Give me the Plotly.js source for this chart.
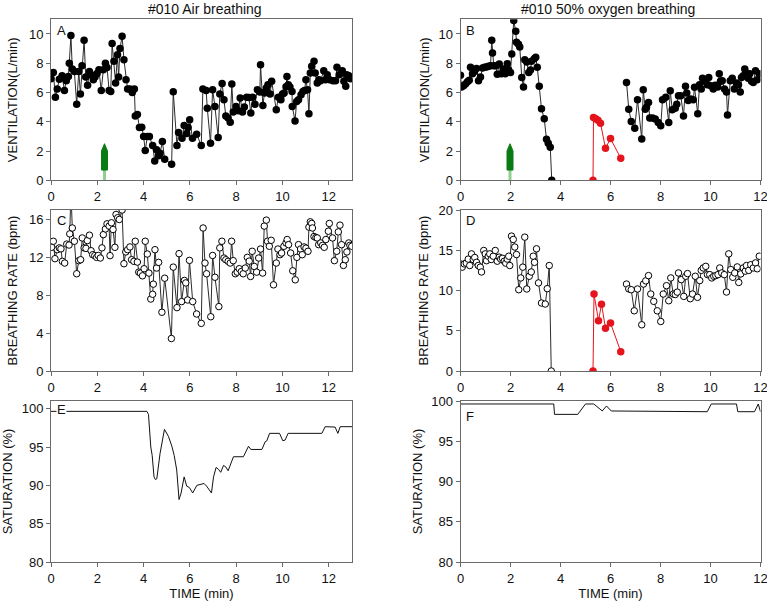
<!DOCTYPE html>
<html>
<head>
<meta charset="utf-8">
<script src="https://cdn.plot.ly/plotly-3.0.1.min.js"></script>
<style>html,body{margin:0;padding:0;background:#fff;}#chart{width:767px;height:604px;}</style>
</head>
<body>
<div id="chart"></div>
<script>
// ---------- DATA ----------
// Panel A: ventilation, air breathing
const timeA = [0,0.10,0.19,0.27,0.36,0.48,0.58,0.66,0.75,0.79,0.86,0.92,1.01,1.11,1.20,1.27,1.34,1.43,1.50,1.58,1.66,1.74,1.83,1.90,1.99,2.07,2.17,2.26,2.35,2.42,2.51,2.58,2.64,2.72,2.79,2.87,2.92,2.98,3.07,3.15,3.24,3.31,3.41,3.51,3.60,3.64,3.73,3.82,3.92,4.00,4.07,4.16,4.25,4.39,4.48,4.56,4.64,4.71,4.81,4.91,5.21,5.28,5.44,5.51,5.66,5.75,5.86,5.92,5.99,6.11,6.29,6.49,6.56,6.70,6.75,6.89,6.98,7.08,7.22,7.29,7.39,7.47,7.55,7.65,7.74,7.81,7.87,7.99,8.09,8.17,8.27,8.35,8.45,8.55,8.63,8.71,8.81,8.91,9.02,9.05,9.15,9.22,9.30,9.37,9.46,9.53,9.73,9.82,9.93,10.00,10.07,10.15,10.19,10.25,10.32,10.41,10.42,10.54,10.61,10.69,10.80,10.88,10.95,11.01,11.08,11.14,11.20,11.26,11.36,11.41,11.50,11.57,11.64,11.78,11.85,11.93,12.03,12.18,12.29,12.35,12.45,12.58,12.65,12.73,12.77,12.86,12.94];
const ventA = [6.94,7.37,5.68,6.23,6.9,7.15,6.14,6.8,7.1,8.0,9.9,7.6,7.44,5.2,7.44,5.9,7.83,9.57,7.05,6.5,7.44,7.2,6.87,7.05,7.3,7.55,6.14,7.55,8.0,7.7,6.14,6.07,9.34,8.13,6.64,8.58,7.05,9.0,9.84,8.24,6.87,6.23,6.23,6.0,6.23,4.4,4.5,3.6,3.62,3.0,2.03,3.0,3.0,2.37,1.32,2.08,1.67,1.85,2.65,1.44,1.1,6.05,2.37,3.26,2.88,3.74,3.2,3.6,4.13,2.88,3.15,2.37,6.23,6.14,4.93,2.53,6.19,5.05,2.92,5.9,6.62,5.5,4.4,4.25,3.97,6.58,4.66,5.05,4.75,5.62,4.66,5.0,5.68,5.66,4.59,5.68,5.2,6.19,6.03,7.9,5.11,5.96,6.3,6.53,5.9,6.76,4.82,5.68,5.5,5.9,5.96,6.4,7.1,6.53,6.37,6.07,5.05,4.06,5.39,5.5,5.84,6.07,6.14,6.87,6.19,4.54,7.33,7.79,8.13,7.33,6.64,6.87,6.8,7.49,6.87,7.21,6.87,6.8,6.8,7.72,7.21,7.49,6.76,6.42,7.21,7.14,6.94];

// Panel B: ventilation, 50% oxygen breathing
const timeBpre = [0,0.04,0.12,0.20,0.28,0.35,0.40,0.48,0.56,0.64,0.72,0.80,0.88,0.96,1.04,1.12,1.20,1.25,1.28,1.33,1.41,1.47,1.55,1.63,1.71,1.79,1.87,1.92,2.00,2.05,2.13,2.21,2.24,2.32,2.37,2.45,2.52,2.57,2.65,2.73,2.80,2.84,2.95,3.01,3.07,3.15,3.24,3.35,3.44,3.51,3.59,3.65];
const ventBpre = [7.17,6.37,6.46,6.58,6.73,6.83,7.72,7.28,7.44,7.63,6.8,7.05,7.67,7.72,7.74,7.79,7.83,9.57,8.7,7.83,7.83,7.24,7.95,7.28,7.6,7.28,7.97,7.56,7.37,8.63,10.91,10.18,9.43,9.3,9.1,7.03,6.37,8.24,8.08,7.37,7.53,8.13,8.3,8.4,7.72,6.42,4.89,4.2,2.8,2.53,2.26,0];
const timeBred = [5.30,5.32,5.41,5.50,5.60,5.80,6.00,6.41];
const ventBred = [0,4.29,4.2,4.1,3.9,2.19,2.85,1.51];
const timeBpost = [6.64,6.73,6.83,6.97,7.08,7.25,7.31,7.39,7.44,7.52,7.57,7.68,7.79,7.91,8.01,8.08,8.21,8.33,8.39,8.47,8.59,8.65,8.72,8.81,8.92,9.00,9.05,9.11,9.21,9.31,9.36,9.49,9.56,9.63,9.68,9.77,9.87,9.93,10.01,10.11,10.19,10.29,10.35,10.40,10.47,10.56,10.64,10.68,10.79,10.87,10.95,11.04,11.12,11.19,11.24,11.31,11.37,11.41,11.51,11.57,11.64,11.71,11.80,11.87,11.95];
const ventBpost = [6.69,4.86,4.02,3.56,5.5,2.83,6.19,4.86,4.99,5.32,4.25,4.25,4.18,3.95,3.72,5.5,5.68,3.95,6.12,4.82,4.93,5.2,5.78,5.78,4.4,6.42,5.96,5.46,5.55,5.5,6.35,4.54,6.53,6.23,6.98,6.76,6.53,7.03,6.46,6.23,6.49,6.37,7.28,6.76,6.8,6.23,6.03,4.47,6.8,6.98,6.23,6.64,6.53,6.03,7.03,7.15,7.6,7.37,6.98,7.28,6.76,6.69,7.49,6.87,7.28];

// Panel C: breathing rate, air breathing
const timeC = [0.03,0.10,0.17,0.27,0.36,0.43,0.49,0.59,0.68,0.78,0.81,0.86,0.92,1.01,1.11,1.20,1.28,1.35,1.43,1.51,1.57,1.66,1.73,1.80,1.89,1.97,2.04,2.13,2.20,2.26,2.35,2.42,2.51,2.55,2.61,2.68,2.76,2.81,2.88,2.95,3.07,3.15,3.23,3.31,3.41,3.48,3.58,3.64,3.73,3.79,3.86,3.95,4.02,4.07,4.16,4.23,4.31,4.39,4.42,4.49,4.56,4.65,4.79,4.91,5.20,5.28,5.44,5.53,5.64,5.76,5.82,5.90,5.98,6.12,6.29,6.49,6.57,6.65,6.72,6.90,6.98,7.08,7.25,7.29,7.38,7.47,7.55,7.65,7.74,7.80,7.87,7.96,8.04,8.13,8.22,8.30,8.39,8.48,8.56,8.62,8.69,8.78,8.88,8.97,9.05,9.14,9.21,9.30,9.35,9.43,9.51,9.61,9.73,9.80,9.89,9.96,10.06,10.15,10.20,10.26,10.35,10.44,10.55,10.62,10.69,10.78,10.85,10.93,11.01,11.10,11.14,11.20,11.26,11.29,11.36,11.44,11.50,11.56,11.65,11.73,11.80,11.87,11.98,12.02,12.16,12.24,12.34,12.41,12.48,12.55,12.63,12.71,12.78,12.86,12.91,12.99];
const rateC = [13.06,13.7,11.86,12.81,13.0,12.9,11.58,11.4,13.4,13.3,14.48,19,15.1,13.7,10.27,11.65,11.75,14.05,13.0,12.95,13.77,14.34,12.7,12.28,12.18,12.0,12.2,11.93,13.0,14.4,15.0,15.54,15.3,12.18,15.65,14.94,13.06,16.53,16.18,16.0,17.0,11.33,12.57,12.81,13.1,11.75,11.58,13.7,11.5,10.44,10.34,10.05,10.8,13.7,12.35,10.34,7.6,8.1,9.17,12.81,10.87,11.47,6.2,9.8,3.43,10.97,6.69,12.39,7.33,9.56,9.3,7.5,11.68,7.33,6.02,5.03,15.1,11.4,10.27,5.73,12.2,9.9,6.8,13.0,13.7,11.93,11.75,11.58,11.4,13.7,11.65,10.27,10.44,10.8,10.5,10.27,10.87,12.0,11.6,9.98,12.64,11.04,10.44,11.93,12.88,10.34,15.3,15.93,13.7,13.17,13.8,9.1,11.4,12.88,12.28,12.46,13.17,13.52,13.88,13.34,12.46,10.58,9.63,12.0,13.34,12.88,12.28,13.1,12.97,12.64,15.19,15.75,15.58,15.1,14.2,14.1,14.05,13.34,13.52,13.27,13.06,13.88,14.76,15.58,14.05,11.65,12.64,14.69,15.4,13.34,11.15,11.75,12.57,13.52,13.27,13.17];

// Panel D: breathing rate, 50% oxygen breathing
const timeDpre = [0,0.07,0.15,0.23,0.31,0.37,0.44,0.51,0.57,0.64,0.71,0.79,0.84,0.93,0.99,1.04,1.11,1.17,1.23,1.31,1.39,1.47,1.55,1.61,1.68,1.75,1.81,1.87,1.93,1.97,2.04,2.11,2.17,2.24,2.33,2.41,2.49,2.57,2.65,2.75,2.83,2.91,2.96,3.04,3.12,3.24,3.39,3.47,3.55,3.63];
const rateDpre = [13.3,12.9,13.3,13.4,13.9,13.1,14.55,13.85,14.1,13.5,13.1,12.9,12.3,14.97,14.55,13.7,14.26,14.55,13.85,14.26,14.97,13.64,14.14,13.9,14.0,13.64,13.4,13.9,14.26,13.1,16.76,16.34,15.4,14.47,10.1,11.56,12.9,16.63,10.19,11.77,12.3,14.26,13.5,15.18,10.94,8.44,8.32,10.23,13.1,0];
const timeDred = [5.30,5.34,5.52,5.64,5.80,6.00,6.41];
const rateDred = [0,9.56,6.24,8.3,5.3,5.95,2.4];
const timeDpost = [6.64,6.73,6.83,6.95,7.08,7.25,7.32,7.41,7.52,7.61,7.73,7.87,8.01,8.11,8.24,8.33,8.41,8.51,8.59,8.67,8.72,8.83,8.93,9.01,9.08,9.19,9.28,9.39,9.48,9.57,9.63,9.71,9.81,9.88,9.97,10.05,10.13,10.21,10.30,10.37,10.45,10.55,10.64,10.73,10.81,10.89,10.97,11.07,11.13,11.21,11.31,11.39,11.44,11.53,11.61,11.71,11.80,11.87,11.95];
const rateDpost = [10.8,10.2,10.1,7.48,10.19,5.74,10.8,11.2,11.85,9.56,8.65,7.48,6.15,9.56,10.6,8.73,11.56,9.56,9.5,9.8,12.18,11.35,9.27,11.77,12.1,8.98,9.56,11.77,9.15,11.23,12.5,12.8,13.0,11.97,11.97,11.56,11.77,11.85,11.97,12.8,12.18,11.97,9.81,14.55,12.6,11.64,12.18,12.93,11.0,12.06,12.8,12.4,13.1,12.5,13.2,12.8,13.43,12.7,14.26];

// Panel E: saturation, air breathing
const timeE = [0,4.14,4.21,4.31,4.37,4.45,4.51,4.57,4.71,4.90,5.07,5.22,5.32,5.43,5.53,5.62,5.75,5.86,5.98,6.12,6.30,6.41,6.61,6.72,6.93,7.02,7.13,7.23,7.33,7.45,7.55,7.65,7.77,7.88,8.31,8.53,8.63,9.11,9.25,9.32,9.44,9.87,10.01,10.11,10.24,11.70,11.84,12.20,12.27,12.39,12.49,13.0];
const satE = [99.65,99.65,99.26,95.0,93.9,91.1,90.76,90.85,94.16,97.3,96.4,95.1,93.9,92.0,88.15,89.0,91.1,89.9,89.7,89.0,90.0,90.1,90.24,89.9,89.0,91.1,92.33,92.1,91.7,92.6,92.4,91.9,92.94,93.73,93.73,95.1,94.68,94.68,95.69,95.8,96.78,96.78,95.82,95.9,96.78,96.78,97.65,97.65,97.6,96.78,97.65,97.65];

// Panel F: saturation, 50% oxygen breathing
const timeF = [0,2.40,2.53,2.66,3.73,3.76,4.69,5.00,5.33,5.67,5.84,6.03,9.87,10.03,11.04,11.09,11.76,11.91,12.0];
const satF = [99.63,99.63,99.7,99.63,99.63,98.34,98.34,99.63,99.63,98.76,99.38,98.76,98.67,99.63,99.63,98.67,98.67,99.63,98.67];

// Tick labels / annotations
const timeTicks = [0,2,4,6,8,10,12];
const titleLeft = '#010 Air breathing';
const titleRight = '#010 50% oxygen breathing';
const panelLetters = ['A','B','C','D','E','F'];
const arrowTimeA = 2.31;
const arrowTimeB = 1.98;

// ---------- STYLE ----------
const FONT = 'Liberation Sans, Arial, sans-serif';
const LINE = '#2b2b2b';
const RED = '#e5141c';
const AXC = '#6a6a6a';

function dots(x, y, xa, ya, filled, color) {
  color = color || 'black';
  return {
    x: x, y: y, xaxis: xa, yaxis: ya, type: 'scatter', mode: 'lines+markers',
    line: {color: color === 'black' ? LINE : color, width: 1},
    marker: filled
      ? {symbol: 'circle', size: 7.5, color: color, line: {width: 0}}
      : {symbol: 'circle', size: 6.5, color: 'white', line: {color: 'black', width: 1}},
    hoverinfo: 'skip', showlegend: false
  };
}
function plain(x, y, xa, ya) {
  return {x: x, y: y, xaxis: xa, yaxis: ya, type: 'scatter', mode: 'lines',
    line: {color: '#111', width: 1}, hoverinfo: 'skip', showlegend: false};
}

const data = [
  dots(timeA, ventA, 'x', 'y', true),
  dots(timeBpre, ventBpre, 'x2', 'y2', true),
  dots(timeBpost, ventBpost, 'x2', 'y2', true),
  dots(timeBred, ventBred, 'x2', 'y2', true, RED),
  dots(timeC, rateC, 'x3', 'y3', false),
  dots(timeDpre, rateDpre, 'x4', 'y4', false),
  dots(timeDpost, rateDpost, 'x4', 'y4', false),
  dots(timeDred, rateDred, 'x4', 'y4', true, RED),
  plain(timeE, satE, 'x5', 'y5'),
  plain(timeF, satF, 'x6', 'y6')
];

const W = 767, H = 604;
const colL = [51/W, 352/W], colR = [460.5/W, 760.5/W];
const row1 = [1-180.3/H, 1-19.3/H], row2 = [1-371/H, 1-210/H], row3 = [1-562/H, 1-401/H];

function xax(dom, range, anchor, title, standoff) {
  const a = {domain: dom, range: range, anchor: anchor, tickmode: 'array', tickvals: timeTicks,
    ticktext: timeTicks.map(String), ticklabeloverflow: 'allow',
    showline: true, mirror: true, linecolor: AXC, linewidth: 1,
    ticks: 'outside', ticklen: 4, tickcolor: AXC, showgrid: false, zeroline: false,
    tickfont: {family: FONT, size: 13, color: '#111'}, automargin: false, fixedrange: true};
  if (title) a.title = {text: title, font: {family: FONT, size: 13, color: '#111'}, standoff: standoff};
  return a;
}
function yax(dom, range, anchor, dtick, title, standoff) {
  return {domain: dom, range: range, anchor: anchor, dtick: dtick, tick0: 0,
    showline: true, mirror: true, linecolor: AXC, linewidth: 1, ticklabeloverflow: 'allow',
    ticks: 'outside', ticklen: 4, tickcolor: AXC, showgrid: false, zeroline: false,
    tickfont: {family: FONT, size: 13, color: '#111'}, automargin: false, fixedrange: true,
    title: {text: title, font: {family: FONT, size: 13, color: '#111'}, standoff: standoff}};
}

const annLetter = (t, xr, yr, bg) => ({text: t, xref: xr + ' domain', yref: yr + ' domain',
  x: 0.015, y: 0.985, xanchor: 'left', yanchor: 'top', showarrow: false,
  font: {family: FONT, size: 13, color: '#111'}, bgcolor: bg || 'rgba(0,0,0,0)', borderpad: 0});

const layout = {
  width: W, height: H,
  margin: {l: 0, r: 0, t: 0, b: 0},
  paper_bgcolor: 'white', plot_bgcolor: 'white',
  font: {family: FONT, size: 13, color: '#111'},
  showlegend: false,
  xaxis: xax(colL, [0, 13], 'y'),
  yaxis: yax(row1, [0, 11], 'x', 2, 'VENTILATION(L/min)', 8),
  xaxis2: xax(colR, [0, 12], 'y2'),
  yaxis2: yax(row1, [0, 11], 'x2', 2, 'VENTILATION(L/min)', 5),
  xaxis3: xax(colL, [0, 13], 'y3'),
  yaxis3: yax(row2, [0, 17], 'x3', 4, 'BREATHING RATE (bpm)', 8),
  xaxis4: xax(colR, [0, 12], 'y4'),
  yaxis4: yax(row2, [0, 20], 'x4', 5, 'BREATHING RATE (bpm)', 6),
  xaxis5: xax(colL, [0, 13], 'y5', 'TIME (min)', 4),
  yaxis5: yax(row3, [80, 101], 'x5', 5, 'SATURATION (%)', 18),
  xaxis6: xax(colR, [0, 12], 'y6', 'TIME (min)', 4),
  yaxis6: yax(row3, [80, 100], 'x6', 5, 'SATURATION (%)', 5),
  annotations: [
    {text: titleLeft, xref: 'paper', yref: 'paper', x: 205/W, y: 1-9/H, xanchor: 'center', yanchor: 'middle',
     showarrow: false, font: {family: FONT, size: 14, color: '#111'}},
    {text: titleRight, xref: 'paper', yref: 'paper', x: 608/W, y: 1-9/H, xanchor: 'center', yanchor: 'middle',
     showarrow: false, font: {family: FONT, size: 14, color: '#111'}},
    annLetter(panelLetters[0], 'x', 'y'),
    annLetter(panelLetters[1], 'x2', 'y2'),
    annLetter(panelLetters[2], 'x3', 'y3'),
    annLetter(panelLetters[3], 'x4', 'y4'),
    Object.assign(annLetter(panelLetters[4], 'x5', 'y5', 'white'), {y: 0.945, yanchor: 'middle'}),
    Object.assign(annLetter(panelLetters[5], 'x6', 'y6'), {y: 0.955})
  ],
  shapes: [
    {type: 'line', xref: 'x', yref: 'y', x0: arrowTimeA, x1: arrowTimeA, y0: 0, y1: 0.75,
     line: {color: '#8fcf8f', width: 3}},
    {type: 'path', xref: 'x', yref: 'y', xsizemode: 'pixel', xanchor: arrowTimeA,
     path: 'M-3,0.7 L3,0.7 L3,2.0 L0,2.5 L-3,2.0 Z', fillcolor: '#0b7a14', line: {color: '#0b7a14', width: 1}},
    {type: 'line', xref: 'x2', yref: 'y2', x0: arrowTimeB, x1: arrowTimeB, y0: 0, y1: 0.75,
     line: {color: '#8fcf8f', width: 3}},
    {type: 'path', xref: 'x2', yref: 'y2', xsizemode: 'pixel', xanchor: arrowTimeB,
     path: 'M-3,0.7 L3,0.7 L3,2.0 L0,2.5 L-3,2.0 Z', fillcolor: '#0b7a14', line: {color: '#0b7a14', width: 1}}
  ]
};

Plotly.newPlot('chart', data, layout, {staticPlot: true, displayModeBar: false});
</script>
</body>
</html>
